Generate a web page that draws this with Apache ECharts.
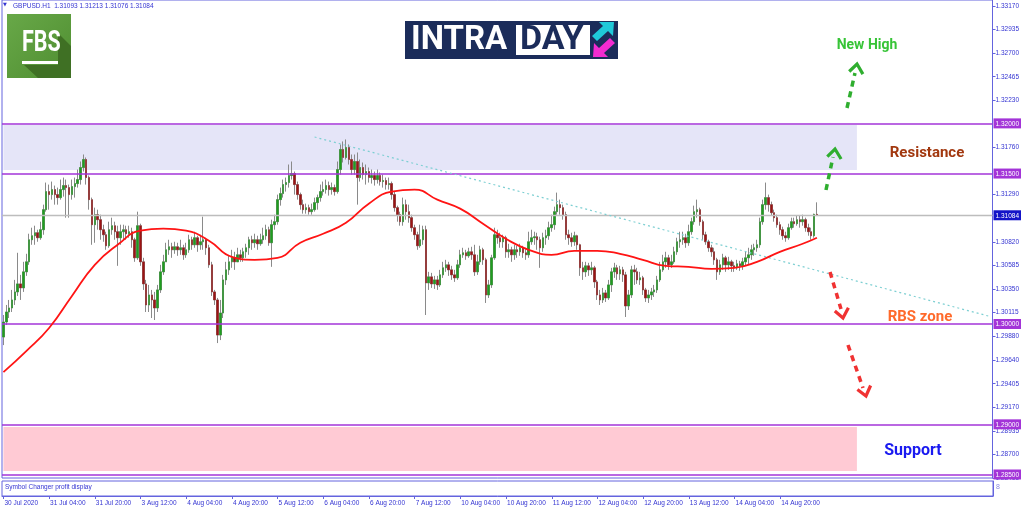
<!DOCTYPE html>
<html><head><meta charset="utf-8">
<script src="https://cdn.jsdelivr.net/npm/echarts@6/dist/echarts.min.js"></script>
<style>html,body{margin:0;padding:0;background:#fff}#c{width:1024px;height:511px}</style>
</head><body><div id="c"></div>
<script>
// ---------- data ----------
const symbolTitle = 'GBPUSD.H1  1.31093 1.31213 1.31076 1.31084';
const panelTitle = 'Symbol Changer profit display';
const timeLabels = ['30 Jul 2020','31 Jul 04:00','31 Jul 20:00','3 Aug 12:00','4 Aug 04:00','4 Aug 20:00','5 Aug 12:00','6 Aug 04:00','6 Aug 20:00','7 Aug 12:00','10 Aug 04:00','10 Aug 20:00','11 Aug 12:00','12 Aug 04:00','12 Aug 20:00','13 Aug 12:00','14 Aug 04:00','14 Aug 20:00'];
const barsPerLabel = 16;
const totalSlots = 347;
const yTickLabels = ['1.33170','1.32935','1.32700','1.32465','1.32230','1.31760','1.31290','1.30820','1.30585','1.30350','1.30115','1.29880','1.29640','1.29405','1.29170','1.28935','1.28700','1.28465'];
const priceTags = [1.32, 1.315, 1.31084, 1.30, 1.29, 1.285];
const levelLines = [1.32, 1.315, 1.30, 1.29, 1.285];
const currentPrice = 1.31084;
const resistanceZone = [1.31535, 1.31984];
const supportZone = [1.28535, 1.28974];
const zoneEndBar = 299;
const trendLine = [[109, 1.31864], [345, 1.3008]];
const yMin = 1.28465, yMax = 1.3323;
const firstOpen = 1.2987;
const closes = [
1.3002,1.3012,1.3016,1.3024,1.3032,1.3040,1.3036,1.3052,1.3062,1.3084,
1.3088,1.3091,1.3086,1.3094,1.3114,1.3132,1.3129,1.3134,1.3129,1.3126,
1.3134,1.3138,1.3136,1.3129,1.3137,1.3140,1.3144,1.3156,1.3164,1.3146,
1.3124,1.3099,1.3109,1.3104,1.3094,1.3089,1.3078,1.3094,1.3098,1.3092,
1.3086,1.3092,1.3094,1.3090,1.3092,1.3084,1.3066,1.3098,1.3062,1.3040,
1.3019,1.3029,1.3024,1.3016,1.3034,1.3052,1.3062,1.3074,1.3077,1.3074,
1.3077,1.3074,1.3076,1.3069,1.3074,1.3084,1.3079,1.3086,1.3079,1.3082,
1.3084,1.3076,1.3059,1.3032,1.3024,1.2989,1.3011,1.3044,1.3054,1.3062,
1.3066,1.3062,1.3069,1.3066,1.3072,1.3076,1.3084,1.3081,1.3084,1.3080,
1.3084,1.3088,1.3094,1.3081,1.3099,1.3102,1.3124,1.3130,1.3139,1.3141,
1.3148,1.3150,1.3139,1.3129,1.3119,1.3114,1.3116,1.3112,1.3114,1.3121,
1.3126,1.3132,1.3134,1.3138,1.3134,1.3136,1.3132,1.3154,1.3174,1.3166,
1.3176,1.3164,1.3154,1.3162,1.3146,1.3156,1.3149,1.3152,1.3146,1.3148,
1.3144,1.3148,1.3142,1.3143,1.3139,1.3140,1.3129,1.3116,1.3109,1.3102,
1.3119,1.3112,1.3106,1.3096,1.3089,1.3078,1.3084,1.3094,1.3041,1.3047,
1.3040,1.3044,1.3039,1.3049,1.3056,1.3059,1.3054,1.3049,1.3046,1.3059,
1.3069,1.3071,1.3068,1.3072,1.3069,1.3052,1.3062,1.3074,1.3064,1.3029,
1.3039,1.3066,1.3089,1.3086,1.3082,1.3086,1.3072,1.3074,1.3069,1.3074,
1.3072,1.3076,1.3071,1.3069,1.3082,1.3086,1.3087,1.3084,1.3076,1.3086,
1.3088,1.3096,1.3099,1.3112,1.3119,1.3116,1.3109,1.3089,1.3086,1.3082,
1.3088,1.3079,1.3056,1.3052,1.3058,1.3054,1.3056,1.3042,1.3029,1.3024,
1.3031,1.3026,1.3039,1.3052,1.3056,1.3050,1.3054,1.3049,1.3018,1.3029,
1.3054,1.3052,1.3044,1.3046,1.3034,1.3026,1.3029,1.3032,1.3034,1.3044,
1.3054,1.3062,1.3066,1.3059,1.3062,1.3072,1.3082,1.3084,1.3086,1.3081,
1.3092,1.3102,1.3112,1.3114,1.3102,1.3089,1.3082,1.3076,1.3072,1.3064,
1.3052,1.3059,1.3066,1.3059,1.3062,1.3058,1.3056,1.3060,1.3058,1.3062,
1.3066,1.3069,1.3074,1.3076,1.3079,1.3102,1.3119,1.3126,1.3119,1.3111,
1.3106,1.3099,1.3094,1.3088,1.3086,1.3096,1.3102,1.3100,1.3104,1.3102,
1.3104,1.3096,1.3092,1.3088,1.31093,1.31084];
const highs = [
1.3009,1.3019,1.3024,1.3034,1.3044,1.3071,1.3049,1.3062,1.3070,1.3090,
1.3096,1.3098,1.3094,1.3102,1.3119,1.3141,1.3139,1.3142,1.3138,1.3136,
1.3144,1.3146,1.3144,1.3139,1.3144,1.3146,1.3154,1.3162,1.3169,1.3166,
1.3148,1.3126,1.3116,1.3114,1.3109,1.3099,1.3092,1.3102,1.3106,1.3102,
1.3098,1.3099,1.3099,1.3098,1.3098,1.3096,1.3086,1.3112,1.3100,1.3066,
1.3044,1.3039,1.3034,1.3032,1.3039,1.3059,1.3069,1.3081,1.3084,1.3081,
1.3082,1.3081,1.3084,1.3079,1.3081,1.3089,1.3087,1.3092,1.3088,1.3089,
1.3107,1.3086,1.3079,1.3062,1.3034,1.3026,1.3024,1.3049,1.3062,1.3069,
1.3074,1.3072,1.3076,1.3074,1.3076,1.3080,1.3087,1.3088,1.3090,1.3088,
1.3090,1.3096,1.3099,1.3097,1.3104,1.3109,1.3129,1.3136,1.3144,1.3146,
1.3159,1.3162,1.3152,1.3142,1.3131,1.3124,1.3120,1.3119,1.3120,1.3126,
1.3129,1.3139,1.3142,1.3144,1.3142,1.3141,1.3139,1.3162,1.3179,1.3182,
1.3184,1.3179,1.3169,1.3169,1.3171,1.3164,1.3161,1.3159,1.3156,1.3154,
1.3152,1.3154,1.3151,1.3149,1.3146,1.3146,1.3142,1.3132,1.3118,1.3112,
1.3126,1.3124,1.3119,1.3109,1.3099,1.3092,1.3099,1.3098,1.3098,1.3052,
1.3051,1.3048,1.3048,1.3054,1.3062,1.3064,1.3062,1.3058,1.3054,1.3064,
1.3074,1.3076,1.3074,1.3076,1.3077,1.3079,1.3069,1.3078,1.3076,1.3066,
1.3044,1.3069,1.3096,1.3094,1.3091,1.3089,1.3088,1.3080,1.3077,1.3079,
1.3078,1.3080,1.3078,1.3076,1.3092,1.3094,1.3092,1.3091,1.3087,1.3091,
1.3094,1.3102,1.3109,1.3117,1.3131,1.3124,1.3119,1.3112,1.3094,1.3091,
1.3092,1.3089,1.3080,1.3062,1.3062,1.3061,1.3062,1.3058,1.3044,1.3034,
1.3036,1.3034,1.3044,1.3056,1.3061,1.3059,1.3058,1.3057,1.3052,1.3034,
1.3058,1.3059,1.3056,1.3052,1.3048,1.3036,1.3034,1.3036,1.3039,1.3048,
1.3062,1.3069,1.3072,1.3069,1.3069,1.3077,1.3086,1.3092,1.3092,1.3090,
1.3099,1.3106,1.3118,1.3124,1.3116,1.3104,1.3092,1.3084,1.3079,1.3076,
1.3066,1.3064,1.3070,1.3068,1.3067,1.3064,1.3062,1.3064,1.3063,1.3066,
1.3072,1.3076,1.3079,1.3080,1.3084,1.3106,1.3124,1.3141,1.3129,1.3122,
1.3114,1.3109,1.3102,1.3097,1.3092,1.3100,1.3106,1.3106,1.3108,1.3108,
1.3109,1.3106,1.3100,1.3096,1.3110,1.31213];
const lows = [
1.2979,1.2999,1.3006,1.3012,1.3019,1.3028,1.3024,1.3032,1.3048,1.3059,
1.3079,1.3079,1.3082,1.3084,1.3089,1.3112,1.3114,1.3124,1.3119,1.3119,
1.3124,1.3127,1.3106,1.3106,1.3124,1.3126,1.3136,1.3139,1.3152,1.3139,
1.3114,1.3079,1.3081,1.3094,1.3084,1.3082,1.3074,1.3076,1.3089,1.3084,
1.3058,1.3079,1.3084,1.3084,1.3086,1.3076,1.3062,1.3064,1.3058,1.3034,
1.3012,1.3012,1.3006,1.3004,1.3012,1.3031,1.3049,1.3062,1.3069,1.3066,
1.3070,1.3068,1.3069,1.3064,1.3066,1.3071,1.3074,1.3076,1.3072,1.3074,
1.3074,1.3069,1.3056,1.3028,1.3019,1.2981,1.2984,1.3006,1.3039,1.3049,
1.3056,1.3054,1.3062,1.3062,1.3062,1.3066,1.3069,1.3074,1.3076,1.3074,
1.3078,1.3080,1.3084,1.3078,1.3057,1.3094,1.3099,1.3118,1.3126,1.3132,
1.3136,1.3144,1.3129,1.3124,1.3114,1.3110,1.3110,1.3109,1.3109,1.3112,
1.3114,1.3122,1.3128,1.3130,1.3128,1.3129,1.3128,1.3130,1.3149,1.3161,
1.3164,1.3159,1.3149,1.3149,1.3119,1.3142,1.3144,1.3139,1.3141,1.3140,
1.3138,1.3140,1.3138,1.3136,1.3134,1.3134,1.3124,1.3112,1.3102,1.3098,
1.3098,1.3104,1.3101,1.3092,1.3084,1.3074,1.3076,1.3079,1.3009,1.3034,
1.3036,1.3035,1.3034,1.3037,1.3046,1.3052,1.3048,1.3044,1.3042,1.3044,
1.3056,1.3066,1.3064,1.3066,1.3064,1.3048,1.3049,1.3059,1.3059,1.3021,
1.3026,1.3036,1.3064,1.3080,1.3076,1.3076,1.3066,1.3066,1.3062,1.3064,
1.3066,1.3068,1.3066,1.3064,1.3066,1.3079,1.3079,1.3074,1.3056,1.3072,
1.3079,1.3084,1.3092,1.3094,1.3109,1.3109,1.3104,1.3084,1.3079,1.3077,
1.3078,1.3074,1.3048,1.3044,1.3047,1.3048,1.3049,1.3036,1.3024,1.3019,
1.3021,1.3022,1.3024,1.3032,1.3046,1.3044,1.3044,1.3042,1.3007,1.3014,
1.3026,1.3039,1.3040,1.3039,1.3029,1.3022,1.3021,1.3024,1.3027,1.3031,
1.3042,1.3052,1.3056,1.3054,1.3056,1.3060,1.3069,1.3076,1.3079,1.3076,
1.3078,1.3089,1.3099,1.3106,1.3098,1.3084,1.3079,1.3072,1.3067,1.3059,
1.3044,1.3049,1.3054,1.3052,1.3054,1.3052,1.3052,1.3054,1.3053,1.3054,
1.3058,1.3059,1.3064,1.3068,1.3072,1.3076,1.3099,1.3114,1.3112,1.3108,
1.3102,1.3096,1.3089,1.3084,1.3082,1.3084,1.3094,1.3096,1.3098,1.3096,
1.3098,1.3092,1.3088,1.3084,1.3086,1.31076];
const maIndex = [0,8,16,24,32,40,48,56,64,72,80,88,96,104,112,120,128,136,144,152,160,168,176,184,192,200,208,216,224,232,240,248,256,264,272,280,285];
const maValues = [1.2952,1.2973,1.2996,1.3028,1.3059,1.3079,1.3093,1.3095,1.3093,1.3083,1.3067,1.3064,1.3066,1.3081,1.3090,1.3101,1.3120,1.3132,1.3134,1.3124,1.3115,1.3100,1.3085,1.3074,1.3069,1.3073,1.3073,1.3070,1.3064,1.3058,1.3057,1.3055,1.3056,1.3062,1.3072,1.3080,1.3086];

// ---------- build ----------
const cats = Array.from({length: totalSlots}, (_, i) => String(i));
const ohlc = closes.map((c, i) => {
  const o = i ? closes[i - 1] : firstOpen;
  return [o, c, Math.min(lows[i], o, c), Math.max(highs[i], o, c)];
});
const bodies = ohlc.map(([o, c]) => [o, c, Math.min(o, c), Math.max(o, c)]);
const maData = maIndex.map((x, k) => [x, maValues[k]]);

const AX = '#3434d2', FRAME = '#6464de', PURPLE = '#a334d8';
const lblFont = 'Liberation Sans';

const chart = echarts.init(document.getElementById('c'), null, {renderer: 'canvas'});

function dashArrow(x1, y1, x2, y2, tx, ty, h1, h2, col) {
  return [
    {type: 'line', z: 50, shape: {x1, y1, x2, y2}, style: {stroke: col, lineWidth: 3.5, lineDash: [6, 5]}},
    {type: 'polyline', z: 50, shape: {points: [h1, [tx, ty], h2]}, style: {stroke: col, lineWidth: 3.2, fill: null}}
  ];
}

const option = {
  animation: false,
  backgroundColor: '#ffffff',
  grid: [
    {left: 2, right: 31, top: 0, height: 478, show: true, borderColor: FRAME, borderWidth: 1},
    {left: 2, right: 31, top: 481, height: 15, show: true, borderColor: FRAME, borderWidth: 1}
  ],
  xAxis: [
    {type: 'category', gridIndex: 0, data: cats, boundaryGap: true,
     axisLine: {show: false}, axisTick: {show: false}, axisLabel: {show: false}, splitLine: {show: false}},
    {type: 'category', gridIndex: 1, data: cats, boundaryGap: true,
     axisLine: {show: true, lineStyle: {color: FRAME}},
     axisTick: {show: true, alignWithLabel: true, length: 3, lineStyle: {color: FRAME},
                interval: (i) => i % barsPerLabel === 0 && i / barsPerLabel < timeLabels.length},
     axisLabel: {show: true, interval: (i) => i % barsPerLabel === 0 && i / barsPerLabel < timeLabels.length,
                 formatter: (v, i) => timeLabels[i / barsPerLabel] || '',
                 align: 'left', margin: 4, padding: [0, 0, 0, 1], color: AX, fontSize: 6.5, fontFamily: lblFont},
     splitLine: {show: false}}
  ],
  yAxis: [
    {type: 'value', gridIndex: 0, position: 'right', min: yMin, max: yMax, scale: true,
     axisLine: {show: true, lineStyle: {color: FRAME}},
     axisTick: {show: true, length: 3, lineStyle: {color: FRAME}, customValues: yTickLabels.map(Number)},
     axisLabel: {show: true, customValues: yTickLabels.map(Number), formatter: (v) => v.toFixed(5),
                 color: AX, fontSize: 6.5, fontFamily: lblFont, margin: 3},
     splitLine: {show: false}},
    {type: 'value', gridIndex: 0, position: 'right', min: yMin, max: yMax, scale: true,
     axisLine: {show: false}, axisTick: {show: false},
     axisLabel: {show: true, customValues: priceTags, margin: 1,
                 formatter: (v) => (Math.abs(v - currentPrice) < 1e-6 ? '{b|' : '{p|') + v.toFixed(5) + '}',
                 rich: {
                   p: {backgroundColor: PURPLE, color: '#ffffff', fontSize: 6.5, fontFamily: lblFont, padding: [2, 2, 1, 2]},
                   b: {backgroundColor: '#1414c8', color: '#ffffff', fontSize: 6.5, fontFamily: lblFont, padding: [2, 2, 1, 2]}
                 }},
     splitLine: {show: false}},
    {type: 'value', gridIndex: 1, position: 'right', min: 0, max: 1,
     axisLine: {show: true, lineStyle: {color: FRAME}}, axisTick: {show: false},
     axisLabel: {show: false}, splitLine: {show: false}}
  ],
  series: [
    {
      name: 'wicks', type: 'candlestick', xAxisIndex: 0, yAxisIndex: 0, data: ohlc, barWidth: 2,
      itemStyle: {color: '#8a8a8a', color0: '#8a8a8a', borderColor: '#8a8a8a', borderColor0: '#8a8a8a', borderWidth: 1},
      silent: true, z: 3,
      markArea: {
        silent: true,
        data: [
          [{xAxis: 0, yAxis: resistanceZone[1], itemStyle: {color: '#e5e5f8'}}, {xAxis: zoneEndBar, yAxis: resistanceZone[0]}],
          [{xAxis: 0, yAxis: supportZone[1], itemStyle: {color: '#ffcad4'}}, {xAxis: zoneEndBar, yAxis: supportZone[0]}]
        ]
      }
    },
    {
      name: 'bodies', type: 'candlestick', xAxisIndex: 0, yAxisIndex: 0, data: bodies, barWidth: 2,
      itemStyle: {color: '#1f9e1f', color0: '#9c1414', borderColor: '#1f9e1f', borderColor0: '#9c1414', borderWidth: 0.3},
      silent: true, z: 4
    },
    {
      name: 'MA', type: 'line', xAxisIndex: 0, yAxisIndex: 0, data: maData, smooth: 0.5,
      showSymbol: false, symbol: 'none', silent: true, z: 5,
      lineStyle: {color: '#ff1414', width: 1.8},
      markLine: {
        silent: true, symbol: 'none', label: {show: false}, precision: 6,
        data: [
          ...levelLines.map(v => ({yAxis: v, lineStyle: {color: PURPLE, width: 1.6, type: 'solid'}})),
          {yAxis: currentPrice, lineStyle: {color: '#bdbdbd', width: 1.4, type: 'solid'}},
          [{coord: trendLine[0], lineStyle: {color: '#7dcfd2', width: 1.2, type: [2, 3]}}, {coord: trendLine[1]}]
        ]
      }
    }
  ],
  graphic: [
    {type: 'text', left: 3, top: 2, z: 60, style: {text: '▼', fontSize: 5, fill: AX, fontFamily: 'DejaVu Sans'}},
    {type: 'text', left: 13, top: 3, z: 60, style: {text: symbolTitle, fontSize: 6.5, fill: AX, fontFamily: lblFont}},
    {type: 'text', left: 5, top: 484, z: 60, style: {text: panelTitle, fontSize: 6.5, fill: AX, fontFamily: lblFont}},
    // FBS logo
    {type: 'rect', z: 40, shape: {x: 7, y: 14, width: 64, height: 64},
     style: {fill: new echarts.graphic.LinearGradient(0, 0, 1, 1, [{offset: 0, color: '#68a848'}, {offset: 1, color: '#4f8e31'}])}},
    {type: 'polygon', z: 41, shape: {points: [[58, 33], [71, 46], [71, 78], [38, 78], [24, 65], [58, 65]]}, style: {fill: '#3f7024'}},
    {type: 'text', z: 42, x: 22, y: 29, scaleX: 0.74, style: {text: 'FBS', fontSize: 29, fontWeight: 'bold', fill: '#ffffff', fontFamily: 'Roboto'}},
    {type: 'rect', z: 42, shape: {x: 22, y: 61, width: 36, height: 3}, style: {fill: '#ffffff'}},
    // INTRADAY logo
    {type: 'rect', z: 40, shape: {x: 405, y: 21, width: 213, height: 38}, style: {fill: '#1b2c5a'}},
    {type: 'rect', z: 41, shape: {x: 516, y: 25, width: 74, height: 30}, style: {fill: '#ffffff'}},
    {type: 'text', z: 42, x: 411, y: 40, scaleX: 0.97, style: {text: 'INTRA', fontSize: 34, fontWeight: 'bold', fill: '#ffffff', fontFamily: 'Roboto', verticalAlign: 'middle'}},
    {type: 'text', z: 42, x: 520, y: 40, style: {text: 'DAY', fontSize: 34, fontWeight: 'bold', fill: '#1b2c5a', fontFamily: 'Roboto', verticalAlign: 'middle'}},
    {type: 'polygon', z: 42, shape: {points: [[614, 22], [613, 36], [608, 31], [597, 41], [592, 36], [603, 26], [599, 22]]}, style: {fill: '#1fc9d9'}},
    {type: 'polygon', z: 42, shape: {points: [[593, 57], [594, 43], [599, 48], [610, 38], [615, 43], [604, 53], [608, 57]]}, style: {fill: '#f22bd0'}},
    // annotations
    {type: 'text', z: 60, x: 867, y: 45, style: {text: 'New High', fontSize: 14, fontWeight: 'bold', fill: '#37c437', fontFamily: 'Roboto', align: 'center', verticalAlign: 'middle'}},
    {type: 'text', z: 60, x: 927, y: 153, style: {text: 'Resistance', fontSize: 15, fontWeight: 'bold', fill: '#a2380f', fontFamily: 'Roboto', align: 'center', verticalAlign: 'middle'}},
    {type: 'text', z: 60, x: 920, y: 317, style: {text: 'RBS zone', fontSize: 15, fontWeight: 'bold', fill: '#ff6a2b', fontFamily: 'Roboto', align: 'center', verticalAlign: 'middle'}},
    {type: 'text', z: 60, x: 913, y: 451, style: {text: 'Support', fontSize: 16, fontWeight: 'bold', fill: '#1a1af0', fontFamily: 'Roboto', align: 'center', verticalAlign: 'middle'}},
    ...dashArrow(826, 190, 833, 157, 835, 149, [827.3, 156.6], [841.1, 159], '#2fae2f'),
    ...dashArrow(847, 108, 855, 73, 857, 64, [849.2, 71.5], [862.9, 74.1], '#2fae2f'),
    ...dashArrow(830, 272, 841, 309, 843, 318, [834.8, 311], [848.4, 307.8], '#f03232'),
    ...dashArrow(848, 345, 863, 388, 866, 396, [857.4, 389.5], [870.6, 385.5], '#f03232'),
    {type: 'text', z: 60, left: 996, top: 484, style: {text: '8', fontSize: 7, fill: '#8a8ae0', fontFamily: lblFont}}
  ]
};
chart.setOption(option);
</script>
</body></html>
